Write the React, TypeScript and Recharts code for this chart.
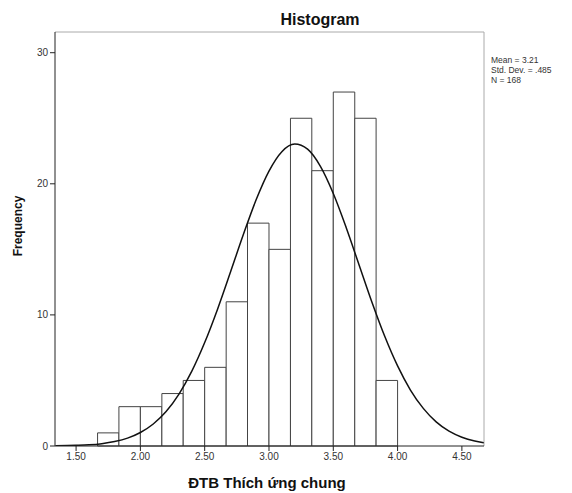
import { ComposedChart, Line, XAxis, YAxis, ReferenceArea, ReferenceLine } from "recharts";

// histogram bins (edges) and counts, N = 168
const BIN_EDGES = [1.667, 1.833, 2.0, 2.167, 2.333, 2.5, 2.667, 2.833, 3.0, 3.167, 3.333, 3.5, 3.667, 3.833, 4.0];
const COUNTS = [1, 3, 3, 4, 5, 6, 11, 17, 15, 25, 21, 27, 25, 5];

// fitted normal curve
const CURVE_X = [1.34, 1.5, 1.6, 1.7, 1.8, 1.9, 2.0, 2.1, 2.2, 2.3, 2.4, 2.5, 2.6, 2.7, 2.8, 2.9, 3.0, 3.1, 3.2, 3.3, 3.4, 3.5, 3.6, 3.7, 3.8, 3.9, 4.0, 4.1, 4.2, 4.3, 4.4, 4.5, 4.6, 4.67];
const CURVE_Y = [0.02, 0.05, 0.09, 0.18, 0.34, 0.6, 1.03, 1.68, 2.63, 3.96, 5.71, 7.89, 10.44, 13.25, 16.11, 18.78, 20.97, 22.45, 23.03, 22.64, 21.33, 19.26, 16.67, 13.83, 10.99, 8.37, 6.11, 4.27, 2.87, 1.84, 1.13, 0.67, 0.38, 0.25];

const X_TICKS = [1.5, 2.0, 2.5, 3.0, 3.5, 4.0, 4.5];
const Y_TICKS = [0, 10, 20, 30];
const STATS = ["Mean = 3.21", "Std. Dev. = .485", "N = 168"];

const X_MIN = 1.336;
const X_MAX = 4.672;
const Y_MAX = 31.58;

const FONT = '"Liberation Sans", Arial, sans-serif';

const curveData = CURVE_X.map((x, i) => ({ x, y: CURVE_Y[i] }));

export default function App() {
  return (
    <div style={{ position: "fixed", left: 0, top: 0, width: 572, height: 493, background: "#fff", fontFamily: FONT }}>
      <ComposedChart
        width={572}
        height={493}
        data={curveData}
        margin={{ top: 32, right: 88, bottom: 17, left: 15 }}
      >
        <XAxis
          type="number"
          dataKey="x"
          domain={[X_MIN, X_MAX]}
          allowDataOverflow
          ticks={X_TICKS}
          tickFormatter={(v: number) => v.toFixed(2)}
          height={30}
          tickSize={5}
          stroke="#222"
          tick={{ fill: "#333", fontSize: 10, fontFamily: FONT }}
        />
        <YAxis
          type="number"
          domain={[0, Y_MAX]}
          allowDataOverflow
          ticks={Y_TICKS}
          width={40}
          tickSize={5}
          stroke="#222"
          tick={{ fill: "#333", fontSize: 10, fontFamily: FONT }}
        />
        {COUNTS.map((c, i) => (
          <ReferenceArea
            key={i}
            x1={BIN_EDGES[i]}
            x2={BIN_EDGES[i + 1]}
            y1={0}
            y2={c}
            fill="#fff"
            fillOpacity={1}
            stroke="#444"
            strokeWidth={1}
          />
        ))}
        <ReferenceLine y={Y_MAX} stroke="#aaa" strokeWidth={1} />
        <ReferenceLine x={X_MAX} stroke="#aaa" strokeWidth={1} />
        <Line
          type="monotone"
          dataKey="y"
          stroke="#111"
          strokeWidth={1.5}
          dot={false}
          activeDot={false}
          isAnimationActive={false}
        />
      </ComposedChart>
      <svg width={572} height={493} style={{ position: "absolute", left: 0, top: 0, pointerEvents: "none" }}>
        <text x={320} y={25} textAnchor="middle" fontSize={16} fontWeight="bold" fill="#111" fontFamily={FONT}>
          Histogram
        </text>
        {STATS.map((s, i) => (
          <text key={s} x={491} y={63 + i * 10} fontSize={8.5} fill="#333" fontFamily={FONT}>
            {s}
          </text>
        ))}
        <text
          x={22}
          y={226}
          transform="rotate(-90 22 226)"
          textAnchor="middle"
          fontSize={12}
          fontWeight="bold"
          fill="#111"
          fontFamily={FONT}
        >
          Frequency
        </text>
        <text x={267} y={488} textAnchor="middle" fontSize={15} fontWeight="bold" fill="#111" fontFamily={FONT}>
          ĐTB Thích ứng chung
        </text>
      </svg>
    </div>
  );
}
